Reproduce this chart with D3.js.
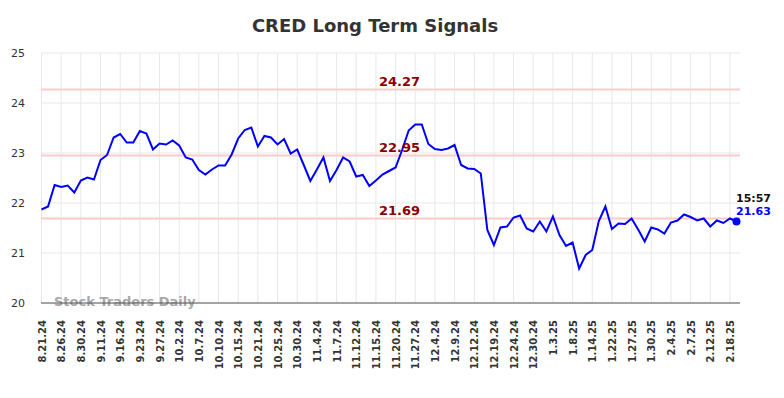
<!DOCTYPE html>
<html>
<head>
    <meta charset="utf-8" />
    <title>CRED Long Term Signals</title>
    <script src="https://d3js.org/d3.v7.min.js"></script>
    <style>
        body { margin: 0; background: #fff; font-family: "DejaVu Sans", sans-serif; }
        .grid line { stroke: #e8e8e8; stroke-width: 1; }
        .yaxis text { font-size: 11px; fill: #333; }
        .xaxis text { font-size: 10px; font-weight: bold; fill: #333; }
    </style>
</head>
<body>
    <div id="chart"></div>
    <script>
        // closing prices, one per session (labels shown every 3rd point)
        const prices = [
            21.87, 21.93, 22.36, 22.32, 22.35, 22.21, 22.45, 22.51, 22.47, 22.86,
            22.96, 23.31, 23.38, 23.21, 23.21, 23.44, 23.39, 23.07, 23.19, 23.17,
            23.25, 23.15, 22.91, 22.87, 22.66, 22.57, 22.67, 22.75, 22.75, 22.97,
            23.29, 23.46, 23.51, 23.13, 23.34, 23.31, 23.17, 23.28, 22.99, 23.07,
            22.76, 22.44, 22.67, 22.91, 22.44, 22.66, 22.91, 22.83, 22.53, 22.56,
            22.34, 22.45, 22.57, 22.64, 22.71, 23.06, 23.45, 23.57, 23.57, 23.18,
            23.08, 23.06, 23.09, 23.16, 22.76, 22.69, 22.68, 22.59, 21.46, 21.16,
            21.51, 21.53, 21.71, 21.75, 21.49, 21.43, 21.63, 21.43, 21.73, 21.36,
            21.14, 21.21, 20.69, 20.96, 21.06, 21.64, 21.93, 21.48, 21.59, 21.58,
            21.69, 21.47, 21.23, 21.51, 21.47, 21.39, 21.61, 21.65, 21.77, 21.72,
            21.65, 21.69, 21.53, 21.65, 21.60, 21.69, 21.63
        ];
        const dateLabels = [
            "8.21.24", "8.26.24", "8.30.24", "9.11.24", "9.16.24", "9.23.24",
            "9.27.24", "10.2.24", "10.7.24", "10.10.24", "10.15.24", "10.21.24",
            "10.25.24", "10.30.24", "11.4.24", "11.7.24", "11.12.24", "11.15.24",
            "11.20.24", "11.27.24", "12.4.24", "12.9.24", "12.12.24", "12.19.24",
            "12.24.24", "12.30.24", "1.3.25", "1.8.25", "1.14.25", "1.22.25",
            "1.27.25", "1.30.25", "2.4.25", "2.7.25", "2.12.25", "2.18.25"
        ];
        const labelStep = 3;
        const signalLevels = [24.27, 22.95, 21.69];
        const yTicks = [20, 21, 22, 23, 24, 25];
        const lastTime = "15:57";

        const width = 784, height = 398;
        const plotLeft = 41, plotRight = 740, plotTop = 53, plotBottom = 303;

        const svg = d3.select("#chart").append("svg")
            .attr("width", width)
            .attr("height", height);

        const n = prices.length;
        const x = d3.scaleLinear().domain([0, n - 1]).range([41.5, 736.5]);
        const y = d3.scaleLinear().domain([20, 25]).range([plotBottom, plotTop]);

        // grid
        const grid = svg.append("g").attr("class", "grid");
        grid.selectAll("line.h").data(yTicks).enter().append("line")
            .attr("x1", plotLeft).attr("x2", plotRight)
            .attr("y1", d => y(d)).attr("y2", d => y(d));
        const labelIdx = dateLabels.map((d, i) => i * labelStep);
        grid.selectAll("line.v").data(labelIdx).enter().append("line")
            .attr("x1", d => x(d)).attr("x2", d => x(d))
            .attr("y1", plotTop).attr("y2", plotBottom);

        // y axis labels
        svg.append("g").attr("class", "yaxis")
            .selectAll("text").data(yTicks).enter().append("text")
            .attr("x", 25).attr("y", d => y(d) + 4)
            .attr("text-anchor", "end")
            .text(d => d);

        // x axis labels (rotated)
        svg.append("g").attr("class", "xaxis")
            .selectAll("text").data(dateLabels).enter().append("text")
            .attr("transform", (d, i) => `translate(${x(i * labelStep) + 4},320) rotate(-90)`)
            .attr("text-anchor", "end")
            .text(d => d);

        // signal levels
        svg.append("g").selectAll("line").data(signalLevels).enter().append("line")
            .attr("x1", plotLeft).attr("x2", plotRight)
            .attr("y1", d => y(d)).attr("y2", d => y(d))
            .attr("stroke", "#ffcaca").attr("stroke-width", 2);

        // watermark
        svg.append("text")
            .attr("x", 54).attr("y", 306)
            .attr("font-size", 13).attr("font-weight", "bold")
            .attr("fill", "#999").attr("opacity", 0.85)
            .text("Stock Traders Daily");

        // bottom axis line
        svg.append("line")
            .attr("x1", plotLeft).attr("x2", plotRight)
            .attr("y1", plotBottom).attr("y2", plotBottom)
            .attr("stroke", "#555").attr("stroke-width", 1);

        // price line
        const line = d3.line().x((d, i) => x(i)).y(d => y(d));
        svg.append("path").datum(prices)
            .attr("d", line)
            .attr("fill", "none")
            .attr("stroke", "#0000ff")
            .attr("stroke-width", 2);

        // signal labels
        svg.append("g").selectAll("text").data(signalLevels).enter().append("text")
            .attr("x", 399.5).attr("y", d => y(d) - 4)
            .attr("text-anchor", "middle")
            .attr("font-size", 13).attr("font-weight", "bold")
            .attr("fill", "#8b0000")
            .text(d => d.toFixed(2));

        // last point
        const last = prices[n - 1];
        svg.append("circle")
            .attr("cx", x(n - 1)).attr("cy", y(last)).attr("r", 4)
            .attr("fill", "#0000ff");
        svg.append("text")
            .attr("x", 736).attr("y", 202)
            .attr("font-size", 11).attr("font-weight", "bold").attr("fill", "#111")
            .text(lastTime);
        svg.append("text")
            .attr("x", 736).attr("y", 215)
            .attr("font-size", 11).attr("font-weight", "bold").attr("fill", "#0000ff")
            .text(last.toFixed(2));

        // title
        svg.append("text")
            .attr("x", 375).attr("y", 32)
            .attr("text-anchor", "middle")
            .attr("font-size", 18).attr("font-weight", "bold")
            .attr("fill", "#333")
            .text("CRED Long Term Signals");
    </script>
</body>
</html>
